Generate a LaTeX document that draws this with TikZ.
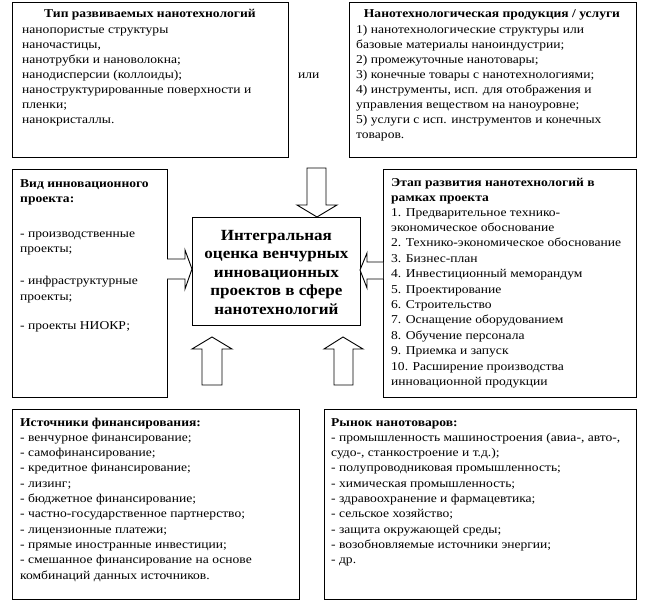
\documentclass[tikz,border=0pt]{standalone}
\usepackage{fontspec}
\setmainfont{Liberation Serif}
\newfontfamily\bodyfont[FakeStretch=1.13]{Liberation Serif}
\newfontfamily\ctrfont[FakeStretch=1.1]{Liberation Serif}
\begin{document}
\begin{tikzpicture}[x=1pt,y=-1pt,
  box/.style={draw, line width=0.9pt, inner sep=0pt, anchor=north west},
  txt/.style={anchor=base west, inner sep=0pt, font=\bodyfont\fontsize{12}{14}\selectfont},
  ttl/.style={txt, font=\bodyfont\fontsize{12}{14}\selectfont\bfseries},
  ctr/.style={anchor=base, inner sep=0pt, font=\bodyfont\fontsize{12}{14}\selectfont\bfseries},
  blk/.style={draw, line width=0.9pt, fill=white, line join=miter}]
\useasboundingbox (0,0) rectangle (649,602);
% boxes
\node[box, minimum width=276pt, minimum height=155pt] (b1) at (12,2) {};
\node[box, minimum width=287pt, minimum height=155pt] (b2) at (349,2) {};
\node[box, minimum width=155pt, minimum height=228pt] (b3) at (12,169) {};
\node[box, minimum width=168pt, minimum height=108pt] (bc) at (192,217) {};
\node[box, minimum width=253pt, minimum height=228pt] (b4) at (383,169) {};
\node[box, minimum width=287pt, minimum height=190pt] (b5) at (12,409) {};
\node[box, minimum width=312pt, minimum height=190pt] (b6) at (324,409) {};
% block arrows
\draw[blk] (307,168) -- (326,168) -- (326,205) -- (337,205) -- (317,217) -- (297,205) -- (307,205) -- cycle;
\draw[blk] (167,259) -- (185,259) -- (185,250) -- (192,269) -- (185,289) -- (185,279) -- (167,279);
\draw[blk] (383,262) -- (367,262) -- (367,253) -- (360,270) -- (367,288) -- (367,279) -- (383,279);
\draw[blk] (202,385) -- (202,349) -- (192,349) -- (212,337) -- (232,349) -- (222,349) -- (222,385) -- cycle;
\draw[blk] (334,385) -- (334,349) -- (324,349) -- (343,337) -- (363,349) -- (353,349) -- (353,385) -- cycle;
% box 1
\node[ctr] (t1) at (150,18) {Тип развиваемых нанотехнологий};
\foreach \t [count=\i from 0] in {{нанопористые структуры},{наночастицы,},{нанотрубки и нановолокна;},{нанодисперсии (коллоиды);},{наноструктурированные поверхности и},{пленки;},{нанокристаллы.}}
  \node[txt] (b1l\i) at (22,{34+\i*15}) {\t};
\node[txt] (ili) at (298,79) {или};
% box 2
\node[ctr] (t2) at (492,18) {Нанотехнологическая продукция / услуги};
\foreach \t [count=\i from 0] in {{1) нанотехнологические структуры или},{базовые материалы наноиндустрии;},{2) промежуточные нанотовары;},{3) конечные товары с нанотехнологиями;},{4) инструменты, исп. для отображения и},{управления веществом на наноуровне;},{5) услуги с исп. инструментов и конечных},{товаров.}}
  \node[txt] (b2l\i) at (356,{34+\i*15}) {\t};
% box 3
\node[ttl] (t3a) at (20,187) {Вид инновационного};
\node[ttl] (t3b) at (20,202) {проекта:};
\node[txt] (b3l1) at (20,237) {- производственные};
\node[txt] (b3l2) at (20,252) {проекты;};
\node[txt] (b3l3) at (20,284) {- инфраструктурные};
\node[txt] (b3l4) at (20,300) {проекты;};
\node[txt] (b3l5) at (20,329) {- проекты НИОКР;};
% center
\node[align=center, inner sep=0pt, font=\ctrfont\fontsize{15.5}{18.5}\selectfont\bfseries] (ct) at ([yshift=-1pt]bc.center) {Интегральная\\оценка венчурных\\инновационных\\проектов в сфере\\нанотехнологий};
% box 4
\node[ttl] (t4a) at (391,186) {Этап развития нанотехнологий в};
\node[ttl] (t4b) at (391,201) {рамках проекта};
\foreach \t [count=\i from 0] in {{1. Предварительное технико-},{экономическое обоснование},{2. Технико-экономическое обоснование},{3. Бизнес-план},{4. Инвестиционный меморандум},{5. Проектирование},{6. Строительство},{7. Оснащение оборудованием},{8. Обучение персонала},{9. Приемка и запуск},{10. Расширение производства},{инновационной продукции}}
  \node[txt] (b4l\i) at (391,{216+\i*15.4}) {\t};
% box 5
\node[ttl] (t5) at (20,426) {Источники финансирования:};
\foreach \t [count=\i from 1] in {{- венчурное финансирование;},{- самофинансирование;},{- кредитное финансирование;},{- лизинг;},{- бюджетное финансирование;},{- частно-государственное партнерство;},{- лицензионные платежи;},{- прямые иностранные инвестиции;},{- смешанное финансирование на основе},{комбинаций данных источников.}}
  \node[txt] (b5l\i) at (20,{426+\i*15.3}) {\t};
% box 6
\node[ttl] (t6) at (331,426) {Рынок нанотоваров:};
\foreach \t [count=\i from 1] in {{- промышленность машиностроения (авиа-, авто-,},{судо-, станкостроение и т.д.);},{- полупроводниковая промышленность;},{- химическая промышленность;},{- здравоохранение и фармацевтика;},{- сельское хозяйство;},{- защита окружающей среды;},{- возобновляемые источники энергии;},{- др.}}
  \node[txt] (b6l\i) at (331,{426+\i*15.3}) {\t};
\end{tikzpicture}
\end{document}
